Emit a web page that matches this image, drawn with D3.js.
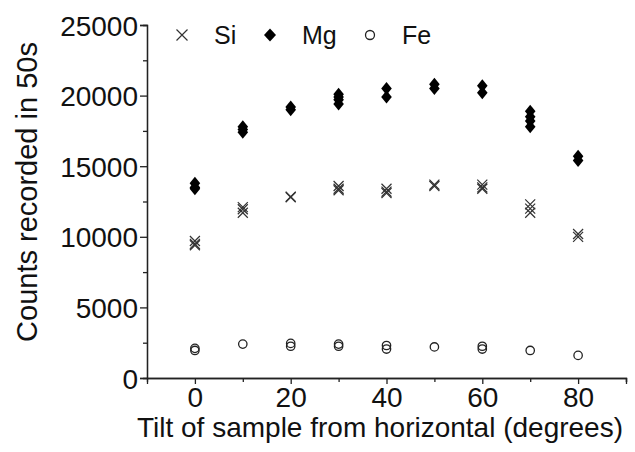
<!DOCTYPE html>
<html>
<head>
<meta charset="utf-8">
<script src="https://cdn.jsdelivr.net/npm/d3@7"></script>
<style>
  body { margin: 0; background: #fff; }
  svg text { font-family: "Liberation Sans", Arial, sans-serif; fill: #111; }
</style>
</head>
<body>
<svg width="635" height="452"></svg>
<script>
// tilt angles (degrees) and the repeated readings at each one
const angles = [0, 10, 20, 30, 40, 50, 60, 70, 80];
const siCounts = [
  [9700, 9500, 9400],
  [12100, 11950, 11700],
  [12850, 12800],
  [13600, 13400, 13300],
  [13400, 13200, 13100],
  [13700, 13600],
  [13700, 13500, 13400],
  [12300, 12000, 11700],
  [10200, 10000]
];
const mgCounts = [
  [13800, 13500, 13400],
  [17800, 17600, 17400],
  [19200, 19000],
  [20100, 19900, 19700, 19400],
  [20500, 19900],
  [20800, 20500],
  [20700, 20200],
  [18900, 18500, 18200, 17800],
  [15700, 15400]
];
const feCounts = [
  [2100, 1950],
  [2400],
  [2450, 2250],
  [2400, 2250],
  [2300, 2050],
  [2200],
  [2250, 2050],
  [1950],
  [1600]
];
const yTicks = [0, 5000, 10000, 15000, 20000, 25000];
const xTicks = [0, 20, 40, 60, 80];
const legendLabels = ['Si', 'Mg', 'Fe'];

let svg = d3.select('svg');

let x = d3.scaleLinear().domain([-10, 90]).range([147, 626]);
let y = d3.scaleLinear().domain([0, 25000]).range([378, 25]);

const flat = arr => arr.flatMap((vals, i) => vals.map(v => ({a: angles[i], v: v})));

// axes
let yAxis = svg.append('g')
  .attr('transform', `translate(${x(-10)},0)`)
  .call(d3.axisLeft(y).tickValues(yTicks).tickSize(7).tickPadding(2).tickFormat(d3.format('d')));
svg.append('g')
  .attr('transform', `translate(${x(-10)},0)`)
  .call(d3.axisLeft(y).tickValues(d3.range(2500, 25000, 5000)).tickSize(4).tickFormat(''));

let xAxis = svg.append('g')
  .attr('transform', `translate(0,${y(0)})`)
  .call(d3.axisBottom(x).tickValues(xTicks).tickSize(6).tickPadding(3));
svg.append('g')
  .attr('transform', `translate(0,${y(0)})`)
  .call(d3.axisBottom(x).tickValues([10, 30, 50, 70, 90]).tickSize(4).tickFormat(''));

svg.selectAll('.domain').attr('stroke', '#222').attr('stroke-width', 1.3);
svg.selectAll('.tick line').attr('stroke', '#222').attr('stroke-width', 1.3);
svg.selectAll('.tick text').style('font-size', '28px').attr('fill', '#111');
yAxis.selectAll('.tick text').attr('dy', '0.36em');

// axis titles
svg.append('text')
  .attr('x', 380).attr('y', 437)
  .attr('text-anchor', 'middle')
  .style('font-size', '28px')
  .text('Tilt of sample from horizontal (degrees)');

svg.append('text')
  .attr('transform', 'translate(37,192) rotate(-90)')
  .attr('text-anchor', 'middle')
  .style('font-size', '29px')
  .text('Counts recorded in 50s');

// marker shapes
const cross = (g, cx, cy, s) => g.append('path')
  .attr('d', `M${cx - s},${cy - s}L${cx + s},${cy + s}M${cx - s},${cy + s}L${cx + s},${cy - s}`)
  .attr('stroke', '#333').attr('stroke-width', 1.2).attr('fill', 'none');
const diamond = (g, cx, cy, w, h) => g.append('path')
  .attr('d', `M${cx},${cy - h}L${cx + w},${cy}L${cx},${cy + h}L${cx - w},${cy}Z`)
  .attr('fill', '#000');
const ring = (g, cx, cy, r) => g.append('circle')
  .attr('cx', cx).attr('cy', cy).attr('r', r)
  .attr('fill', 'none').attr('stroke', '#222').attr('stroke-width', 1.3);

let pts = svg.append('g');
flat(feCounts).forEach(d => ring(pts, x(d.a), y(d.v), 4.2));
flat(siCounts).forEach(d => cross(pts, x(d.a), y(d.v), 5));
flat(mgCounts).forEach(d => diamond(pts, x(d.a), y(d.v), 5.3, 6.5));

// legend
let leg = svg.append('g');
const legX = [182, 270, 370];
cross(leg, legX[0], 35, 5.5);
diamond(leg, legX[1], 35, 6, 6.5);
ring(leg, legX[2], 35, 4.5);
legendLabels.forEach((t, i) => {
  leg.append('text')
    .attr('x', legX[i] + 32).attr('y', 44)
    .style('font-size', '25px')
    .text(t);
});
</script>
</body>
</html>
